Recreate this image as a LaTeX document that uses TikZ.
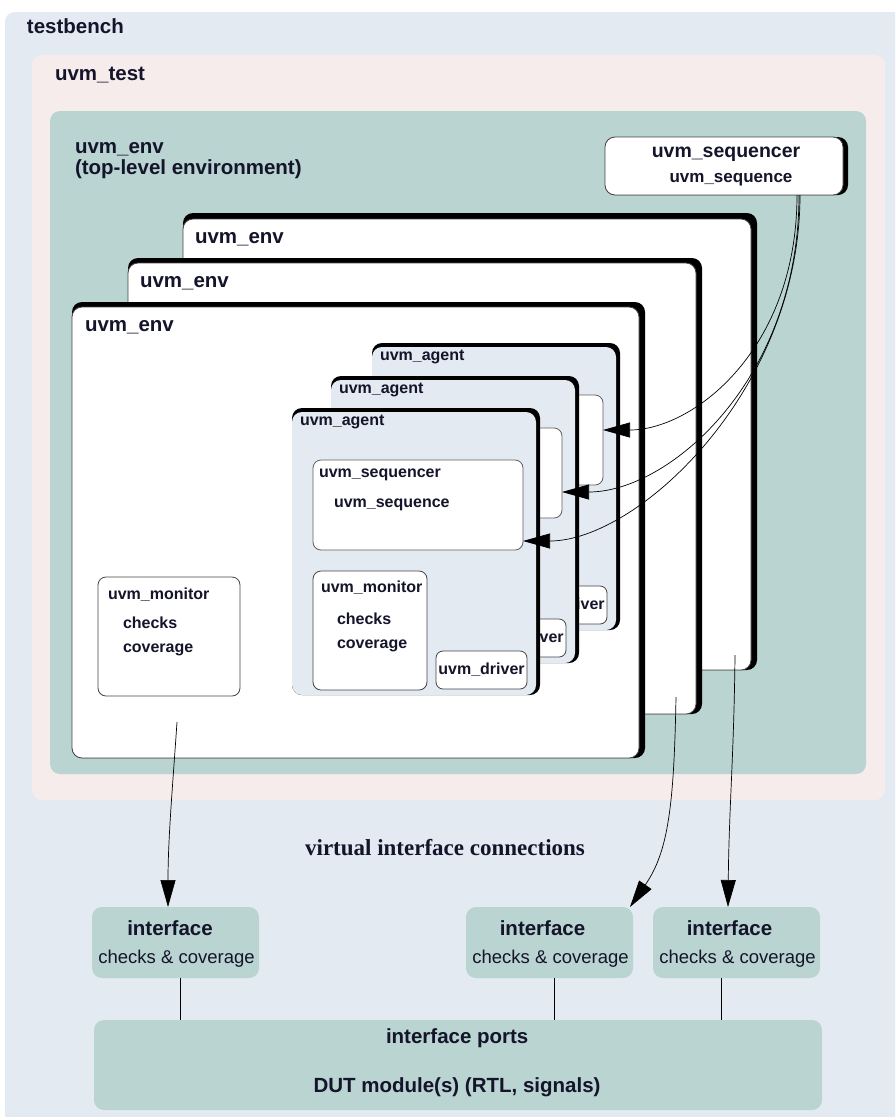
\documentclass[tikz,border=0pt]{standalone}
\usepackage{fontspec}
\setmainfont{Liberation Sans}
\newfontfamily\serifbf{Liberation Serif}
\usetikzlibrary{arrows.meta}
\definecolor{tbc}{HTML}{E3EAF1}
\definecolor{testc}{HTML}{F7ECEC}
\definecolor{envc}{HTML}{B9D4D1}
\definecolor{agc}{HTML}{E3EAF1}
\definecolor{txtc}{HTML}{14142A}
\definecolor{bordc}{HTML}{444444}
\newcommand\fntBig{\fontsize{20.5pt}{24pt}\selectfont\bfseries}
\newcommand\fntAg{\fontsize{16pt}{19pt}\selectfont\bfseries}
\newcommand\fntReg{\fontsize{18.5pt}{22pt}\selectfont}
\newcommand\fntSerif{\fontsize{23pt}{27pt}\selectfont\serifbf\bfseries}
\newcommand\fntSqA{\fontsize{19.5pt}{23pt}\selectfont\bfseries}
\newcommand\fntSqB{\fontsize{17pt}{20pt}\selectfont\bfseries}
% style name x0 y0 x1 y1 text
\newcommand\rbox[7]{\pgfmathsetmacro\rw{(#5)-(#3)}\pgfmathsetmacro\rh{(#6)-(#4)}%
  \node[#1, minimum width=\rw pt, minimum height=\rh pt, anchor=north west] (#2) at ({#3},{#4}) {#7};}
% style name x0 y0 x1 y1 dx dy radius
\newcommand\shbox[9]{\fill[black, rounded corners=#9pt] ({#3},{#4}) rectangle ({#5},{#6});%
  \pgfmathsetmacro\rw{(#5)-(#3)-(#7)}\pgfmathsetmacro\rh{(#6)-(#4)-(#8)}%
  \node[#1, rounded corners=#9pt, minimum width=\rw pt, minimum height=\rh pt, anchor=north west] (#2) at ({#3},{(#4)+(#8)}) {};}
\newcommand\agentgrp[3]{%
  \shbox{agentst}{#1}{292+(#2)}{408+(#3)}{540+(#2)}{695+(#3)}{4}{4}{10}
  \node[ag, anchor=base west] (#1L) at ({300+(#2)},{425+(#3)}) {uvm\_agent};
  \rbox{seqst}{#1seq}{313+(#2)}{460+(#3)}{523+(#2)}{550+(#3)}{}
  \rbox{drvst}{#1drv}{436+(#2)}{651+(#3)}{527+(#2)}{689+(#3)}{uvm\_driver}
}
\begin{document}
\begin{tikzpicture}[x=1pt,y=-1pt,
  lbl/.style={inner sep=0pt, outer sep=0pt, text=txtc},
  big/.style={lbl, font=\fntBig},
  ag/.style={lbl, font=\fntAg},
  reg/.style={lbl, font=\fntReg},
  serif/.style={lbl, font=\fntSerif},
  sqA/.style={lbl, font=\fntSqA},
  sqB/.style={lbl, font=\fntSqB},
  areabox/.style={rectangle, inner sep=0pt, outer sep=0pt, rounded corners=10pt},
  whitebox/.style={draw=bordc, line width=0.8pt, fill=white, inner sep=0pt, outer sep=0pt},
  agentst/.style={fill=agc, inner sep=0pt, outer sep=0pt},
  seqst/.style={draw=gray!75!black, line width=0.8pt, fill=white, rounded corners=8pt, inner sep=0pt, outer sep=0pt},
  monst/.style={draw=bordc, line width=0.8pt, fill=white, rounded corners=8pt, inner sep=0pt, outer sep=0pt},
  drvst/.style={draw=bordc, line width=0.8pt, fill=white, rounded corners=7pt, inner sep=0pt, outer sep=0pt, font=\fntAg, text=txtc},
  ifst/.style={areabox, fill=envc},
  conn/.style={draw=black, line width=0.7pt, -{Triangle[length=27pt,width=15pt]}},
  plainln/.style={draw=black, line width=0.7pt},
]
\useasboundingbox (0,0) rectangle (895,1117);
\clip (0,0) rectangle (895,1117);
\fill[white] (0,0) rectangle (895,1117);
% containers
\rbox{areabox, fill=tbc}{tb}{5}{12}{910}{1130}{}
\node[big, anchor=base west] (tbL) at (27,33) {testbench};
\rbox{areabox, fill=testc}{test}{32}{55}{885}{800}{}
\node[big, anchor=base west] (testL) at (55,80) {uvm\_test};
\rbox{areabox, fill=envc}{topenv}{50}{111}{866}{774}{}
\node[big, anchor=base west] (teL1) at (75,153) {uvm\_env};
\node[big, anchor=base west] (teL2) at (75,174) {(top-level environment)};
% top sequencer
\shbox{whitebox}{tseq}{605}{137}{848}{195}{5}{0}{10}
\node[sqA, anchor=base] (tsqL) at (726,157) {uvm\_sequencer};
\node[sqB, anchor=base] (tsL) at (731,182) {uvm\_sequence};
% environments
\shbox{whitebox}{env3}{183}{213}{757}{670}{6}{6}{10}
\node[big, anchor=base west] (env3L) at (195,243) {uvm\_env};
\shbox{whitebox}{env2}{128}{258}{702}{714}{6}{5}{10}
\node[big, anchor=base west] (env2L) at (140,287) {uvm\_env};
\shbox{whitebox}{env1}{72}{302}{645}{758}{6}{5}{10}
\node[big, anchor=base west] (env1L) at (85,331) {uvm\_env};
% env1 monitor
\rbox{monst}{emon}{98}{577}{240}{696}{}
\node[ag, anchor=base west] (emonL) at (108,599) {uvm\_monitor};
\node[ag, anchor=base west] (emonC) at (123,628) {checks};
\node[ag, anchor=base west] (emonV) at (123,652) {coverage};
% agents
\agentgrp{a3}{80}{-65}
\agentgrp{a2}{39}{-32}
\agentgrp{a1}{0}{0}
\node[ag, anchor=base west] (a1sqL) at (319,477) {uvm\_sequencer};
\node[ag, anchor=base west] (a1sL) at (334,507) {uvm\_sequence};
\rbox{monst}{a1mon}{313}{571}{427}{690}{}
\node[ag, anchor=base west] (a1monL) at (321,592) {uvm\_monitor};
\node[ag, anchor=base west] (a1monC) at (337,624) {checks};
\node[ag, anchor=base west] (a1monV) at (337,648) {coverage};
% interfaces and DUT
\rbox{ifst}{i1}{92}{907}{259}{978}{}
\rbox{ifst}{i2}{466}{907}{633}{978}{}
\rbox{ifst}{i3}{653}{907}{820}{978}{}
\rbox{ifst}{dut}{94}{1020}{822}{1110}{}
\node[big, anchor=base] (i1a) at (170,935) {interface};
\node[reg, anchor=base] (i1b) at (176.5,963) {checks \& coverage};
\node[big, anchor=base] (i2a) at (542.5,935) {interface};
\node[reg, anchor=base] (i2b) at (550.5,963) {checks \& coverage};
\node[big, anchor=base] (i3a) at (729.5,935) {interface};
\node[reg, anchor=base] (i3b) at (737.5,963) {checks \& coverage};
\node[big, anchor=base west] (dutA) at (386,1043) {interface ports};
\node[big, anchor=base] (dutB) at (457,1092) {DUT module(s) (RTL, signals)};
\node[serif, anchor=base] (vic) at (445,855) {virtual interface connections};
% interface to DUT lines
\draw[plainln] ([xshift=4.5pt]i1.south) -- ([xshift=4.5pt]i1.south |- dut.north);
\draw[plainln] ([xshift=5pt]i2.south) -- ([xshift=5pt]i2.south |- dut.north);
\draw[plainln] ([xshift=-15.5pt]i3.south) -- ([xshift=-15.5pt]i3.south |- dut.north);
% sequencer connections
\draw[conn] ([xshift=73pt]tseq.south) .. controls +(0,155) and +(90,0) .. ([yshift=10pt]a3seq.east);
\draw[conn] ([xshift=75pt]tseq.south) .. controls +(0,185) and +(107,0) .. ([yshift=-19pt]a2seq.east);
\draw[conn] ([xshift=76pt]tseq.south) .. controls +(0,195) and +(115,0) .. ([yshift=-36pt]a1seq.east);
% virtual interface connections
\coordinate (sA) at (177,722);
\coordinate (sB) at (676,697);
\coordinate (sC) at (735,655);
\draw[conn] (sA) .. controls +(-4,60) and +(0,-70) .. ([xshift=-7.5pt]i1.north);
\draw[conn] (sB) .. controls +(-2,110) and +(38,-55) .. ([xshift=-3pt]i2.north east);
\draw[conn] (sC) .. controls +(-1,100) and +(1,-100) .. ([xshift=-8.5pt]i3.north);
\end{tikzpicture}
\end{document}
